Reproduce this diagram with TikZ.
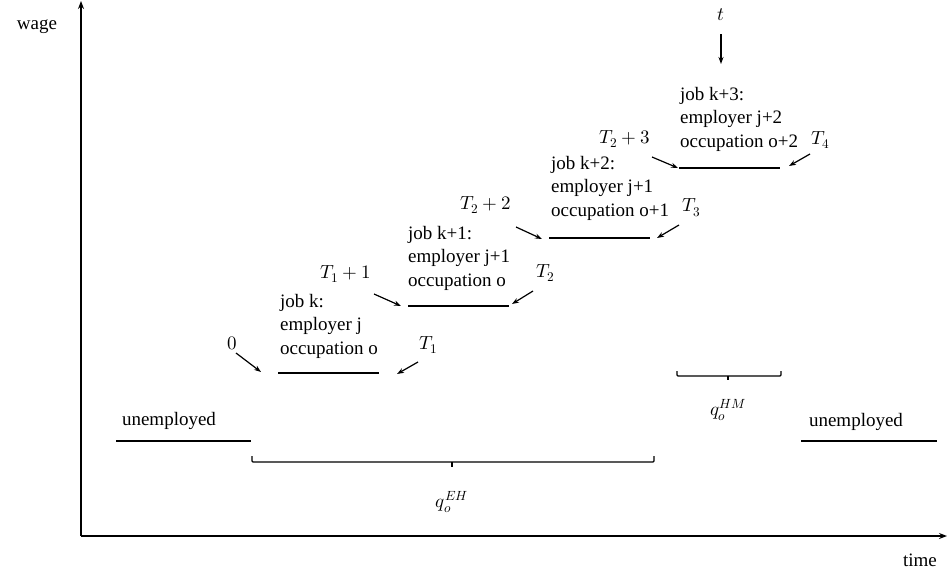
\documentclass[tikz,border=0pt]{standalone}
\usepackage{fontspec}
\usepackage{unicode-math}
\setmainfont{Liberation Serif}
\setmathfont{Latin Modern Math}
\usetikzlibrary{arrows.meta}
\begin{document}
\begin{tikzpicture}[x=1pt,y=-1pt,
  txt/.style={inner sep=0pt,font=\fontsize{19}{23.5}\selectfont},
  jobtxt/.style={txt,align=left,anchor=north west},
  axis/.style={line width=1.5pt,-{Stealth[length=8pt,width=6pt]}},
  jobline/.style={line width=2pt},
  ptr/.style={line width=1.2pt,-{Stealth[length=7pt,width=5pt]}},
  brace/.style={line width=1.3pt,rounded corners=1pt}]
\useasboundingbox (0,0) rectangle (948,573);
% axes
\coordinate (O) at (81,536);
\coordinate (Ytop) at (81,1);
\coordinate (Xend) at (947,536);
\draw[axis] (O) -- (Ytop);
\draw[axis] (O) -- (Xend);
\node[txt] (wage) at (37,27) {wage};
\node[txt] (time) at (920,560) {time};
% unemployed
\coordinate (u1a) at (116,441); \coordinate (u1b) at (251,441);
\draw[jobline] (u1a) -- (u1b);
\node[txt] (un1) at (169,421) {unemployed};
\coordinate (u2a) at (801,441); \coordinate (u2b) at (937,441);
\draw[jobline] (u2a) -- (u2b);
\node[txt] (un2) at (856,422) {unemployed};
% job k
\coordinate (j0a) at (278,373); \coordinate (j0b) at (379,373);
\draw[jobline] (j0a) -- (j0b);
\node[jobtxt] (t0) at (280,294) {job k:\\employer j\\occupation o};
\node[txt] (l0) at (232,343) {$0$};
\coordinate (a0s) at (236,353); \coordinate (a0e) at (261,372);
\draw[ptr] (a0s) -- (a0e);
\node[txt] (lT1) at (429,345) {$T_1$};
\coordinate (b0s) at (418,362); \coordinate (b0e) at (397,374);
\draw[ptr] (b0s) -- (b0e);
% job k+1
\coordinate (j1a) at (408,306); \coordinate (j1b) at (509,306);
\draw[jobline] (j1a) -- (j1b);
\node[jobtxt] (t1) at (408,226) {job k+1:\\employer j+1\\occupation o};
\node[txt] (l1) at (346,274) {$T_1+1$};
\coordinate (a1s) at (374,294); \coordinate (a1e) at (401,306);
\draw[ptr] (a1s) -- (a1e);
\node[txt] (lT2) at (546,273) {$T_2$};
\coordinate (b1s) at (533,291); \coordinate (b1e) at (512,304);
\draw[ptr] (b1s) -- (b1e);
% job k+2
\coordinate (j2a) at (549,238); \coordinate (j2b) at (650,238);
\draw[jobline] (j2a) -- (j2b);
\node[jobtxt] (t2) at (551,156) {job k+2:\\employer j+1\\occupation o+1};
\node[txt] (l2) at (486,205) {$T_2+2$};
\coordinate (a2s) at (516,227); \coordinate (a2e) at (542,239);
\draw[ptr] (a2s) -- (a2e);
\node[txt] (lT3) at (692,208) {$T_3$};
\coordinate (b2s) at (679,225); \coordinate (b2e) at (657,238);
\draw[ptr] (b2s) -- (b2e);
% job k+3
\coordinate (j3a) at (679,168); \coordinate (j3b) at (780,168);
\draw[jobline] (j3a) -- (j3b);
\node[jobtxt] (t3) at (680,87) {job k+3:\\employer j+2\\occupation o+2};
\node[txt] (l3) at (625,139) {$T_2+3$};
\coordinate (a3s) at (652,157); \coordinate (a3e) at (678,168);
\draw[ptr] (a3s) -- (a3e);
\node[txt] (lT4) at (821,140) {$T_4$};
\coordinate (b3s) at (810,154); \coordinate (b3e) at (789,166);
\draw[ptr] (b3s) -- (b3e);
\node[txt] (lt) at (721,15) {$t$};
\coordinate (cts) at (721,34); \coordinate (cte) at (721,64);
\draw[ptr] (cts) -- (cte);
% braces
\draw[brace] (252,456) -- (252,462) -- (654,462) -- (654,456);
\draw[line width=1.3pt] (452,462) -- (452,467);
\node[txt] (qEH) at (452,502) {$q_o^{EH}$};
\draw[brace] (677,371) -- (677,376) -- (781,376) -- (781,371);
\draw[line width=1.3pt] (728,376) -- (728,380);
\node[txt] (qHM) at (728,410) {$q_o^{HM}$};
\end{tikzpicture}
\end{document}
